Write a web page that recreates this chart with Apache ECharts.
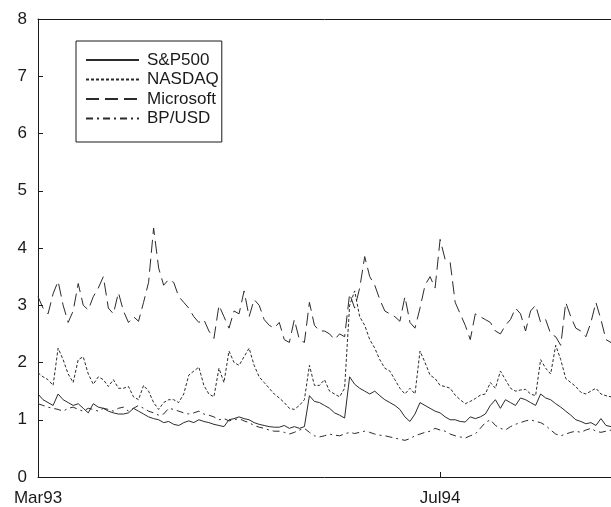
<!DOCTYPE html>
<html>
<head>
<meta charset="utf-8">
<script src="https://cdn.jsdelivr.net/npm/echarts@6/dist/echarts.min.js"></script>
<style>
  html, body { margin: 0; padding: 0; background: #fff; }
  #chart { width: 611px; height: 507px; }
</style>
</head>
<body>
<div id="chart"></div>
<script>
// Samples are taken every 0.2 months, starting at March 1993.
const SAMPLE_STEP_MONTHS = 0.2;

const tickMonths = [0, 16];
const tickLabels = ['Mar93', 'Jul94'];

const seriesNames = ['S&P500', 'NASDAQ', 'Microsoft', 'BP/USD'];

const sp500 = [
  1.45, 1.35, 1.3, 1.25, 1.45, 1.35, 1.3, 1.25, 1.28, 1.2, 1.12, 1.28, 1.22, 1.2, 1.15, 1.12, 1.1, 1.1, 1.12, 1.2,
  1.15, 1.1, 1.05, 1.02, 1.0, 0.95, 0.97, 0.92, 0.9, 0.95, 0.98, 0.95, 1.0, 0.97, 0.95, 0.92, 0.9, 0.88, 1.0, 1.02,
  1.05, 1.02, 1.0, 0.95, 0.92, 0.9, 0.88, 0.87, 0.87, 0.9, 0.85, 0.88, 0.85, 0.88, 1.42, 1.32, 1.3, 1.25, 1.2,
  1.12, 1.08, 1.03, 1.75, 1.62, 1.55, 1.5, 1.45, 1.5, 1.42, 1.35, 1.3, 1.25, 1.18, 1.05, 0.97, 1.1, 1.3, 1.25, 1.2,
  1.15, 1.12, 1.05, 1.0, 1.0, 0.97, 0.96, 1.05, 1.02, 1.05, 1.1, 1.25, 1.35, 1.2, 1.35, 1.3, 1.25, 1.38, 1.35,
  1.3, 1.25, 1.45, 1.38, 1.35, 1.28, 1.22, 1.15, 1.08, 1.0, 0.97, 0.93, 0.95, 0.9, 1.02, 0.9, 0.88, 0.9
];

const nasdaq = [
  1.82, 1.75, 1.7, 1.6, 2.25, 2.05, 1.8, 1.65, 2.05, 2.1, 1.8, 1.62, 1.75, 1.7, 1.58, 1.7, 1.55, 1.55, 1.58, 1.4,
  1.35, 1.6, 1.5, 1.3, 1.18, 1.3, 1.35, 1.35, 1.3, 1.45, 1.78, 1.85, 1.92, 1.6, 1.45, 1.4, 1.9, 1.65, 2.2, 2.0,
  1.95, 2.1, 2.25, 1.95, 1.75, 1.65, 1.55, 1.45, 1.38, 1.3, 1.2, 1.18, 1.25, 1.35, 1.95, 1.6, 1.6, 1.7, 1.5,
  1.45, 1.4, 1.55, 3.0, 3.25, 2.8, 2.65, 2.4, 2.25, 2.05, 1.9, 1.85, 1.7, 1.55, 1.45, 1.55, 1.45, 2.2, 2.0, 1.78,
  1.72, 1.6, 1.58, 1.55, 1.43, 1.35, 1.28, 1.32, 1.37, 1.43, 1.45, 1.65, 1.55, 1.85, 1.7, 1.55, 1.5, 1.52, 1.53,
  1.45, 1.42, 2.05, 1.9, 1.8, 2.3, 2.05, 1.72, 1.65, 1.58, 1.48, 1.45, 1.5, 1.55, 1.45, 1.42, 1.4, 1.45
];

const microsoft = [
  3.15, 2.95, 2.85, 3.2, 3.42, 3.0, 2.7, 2.9, 3.38, 3.0, 2.92, 3.15, 3.3, 3.5, 2.95, 2.85, 3.22, 2.9, 2.7, 2.8,
  2.72, 3.05, 3.4, 4.35, 3.65, 3.35, 3.45, 3.4, 3.15, 3.05, 2.95, 2.8, 2.7, 2.75, 2.55, 2.42, 3.0, 2.8, 2.6, 2.9,
  2.85, 3.25, 2.8, 3.1, 3.0, 2.75, 2.65, 2.6, 2.7, 2.4, 2.35, 2.75, 2.4, 2.35, 3.05, 2.65, 2.55, 2.55, 2.5,
  2.4, 2.5, 2.45, 3.2, 2.95, 3.3, 3.85, 3.5, 3.35, 3.1, 2.9, 2.85, 2.8, 2.72, 3.15, 2.7, 2.6, 2.95, 3.35, 3.5,
  3.3, 4.15, 3.8, 3.75, 3.05, 2.85, 2.65, 2.4, 2.85, 2.8, 2.75, 2.7, 2.55, 2.5, 2.65, 2.75, 2.95, 2.85, 2.55,
  2.9, 3.0, 2.7, 2.75, 2.5, 2.45, 2.3, 3.05, 2.8, 2.6, 2.55, 2.45, 2.7, 3.05, 2.75, 2.4, 2.35, 2.45
];

const bpUsd = [
  1.28, 1.25, 1.22, 1.2, 1.18, 1.15, 1.2, 1.22, 1.18, 1.15, 1.2, 1.18, 1.15, 1.2, 1.18, 1.15, 1.2, 1.22, 1.15, 1.2,
  1.25, 1.2, 1.15, 1.12, 1.08, 1.1, 1.2, 1.18, 1.15, 1.12, 1.1, 1.12, 1.15, 1.1, 1.08, 1.05, 1.0, 1.02, 0.98, 1.0,
  1.02, 0.98, 0.95, 0.9, 0.87, 0.85, 0.82, 0.8, 0.8, 0.78, 0.75, 0.78, 0.82, 0.85, 0.78, 0.72, 0.7, 0.72, 0.75,
  0.73, 0.72, 0.75, 0.78, 0.76, 0.78, 0.8, 0.78, 0.75, 0.73, 0.72, 0.7, 0.68, 0.66, 0.64, 0.67, 0.72, 0.75, 0.78, 0.8,
  0.85, 0.82, 0.8, 0.75, 0.72, 0.7, 0.68, 0.72, 0.75, 0.85, 0.95, 1.0, 0.9, 0.85, 0.82, 0.88, 0.92, 0.95, 0.98,
  1.0, 0.97, 0.95, 0.9, 0.82, 0.75, 0.72, 0.75, 0.78, 0.8, 0.78, 0.82, 0.85, 0.8, 0.78, 0.8, 0.82, 0.8
];

const FONT = '"Liberation Sans", Arial, Helvetica, sans-serif';
const INK = '#1a1a1a';
const TRACE = '#2b2b2b';

function toPoints(values) {
  return values.map((v, i) => [i * SAMPLE_STEP_MONTHS, v]);
}

function lineSeries(name, values, dash) {
  return {
    name: name,
    type: 'line',
    data: toPoints(values),
    symbol: 'none',
    smooth: false,
    xAxisIndex: 0,
    lineStyle: { color: TRACE, width: 1, type: dash },
    itemStyle: { color: TRACE },
    emphasis: { disabled: true }
  };
}

const chart = echarts.init(document.getElementById('chart'), null, { renderer: 'canvas' });

chart.setOption({
  animation: false,
  backgroundColor: '#ffffff',
  grid: { left: 38, top: 19, right: 0, bottom: 30, containLabel: false },
  legend: {
    orient: 'vertical',
    left: 76,
    top: 41,
    data: seriesNames,
    itemWidth: 53,
    itemHeight: 14,
    itemGap: 2.5,
    padding: [10.5, 3, 15, 9],
    borderColor: INK,
    borderWidth: 1,
    backgroundColor: '#ffffff',
    selectedMode: false,
    // legend keys show only the line pattern, no marker
    itemStyle: { opacity: 0, borderWidth: 0 },
    textStyle: { fontFamily: FONT, fontSize: 17, color: INK, padding: [0, 0, 0, 3] }
  },
  xAxis: [
    {
      type: 'value',
      min: 0,
      max: 22.8,
      axisLine: { show: true, lineStyle: { color: INK, width: 1 } },
      axisTick: { show: true, inside: true, length: 5, customValues: tickMonths, lineStyle: { color: INK } },
      axisLabel: {
        show: true,
        customValues: tickMonths,
        formatter: v => {
          const k = tickMonths.indexOf(v);
          return k >= 0 ? tickLabels[k] : '';
        },
        fontFamily: FONT,
        fontSize: 17,
        color: INK,
        margin: 13
      },
      splitLine: { show: false }
    },
    {
      type: 'value',
      position: 'top',
      min: 0,
      max: 22.8,
      axisLine: { show: true, lineStyle: { color: INK, width: 1 } },
      axisTick: { show: false },
      axisLabel: { show: false },
      splitLine: { show: false }
    }
  ],
  yAxis: {
    type: 'value',
    min: 0,
    max: 8,
    interval: 1,
    axisLine: { show: true, lineStyle: { color: INK, width: 1 } },
    axisTick: { show: true, inside: true, length: 5, lineStyle: { color: INK } },
    axisLabel: { fontFamily: FONT, fontSize: 17, color: INK, margin: 11 },
    splitLine: { show: false }
  },
  series: [
    lineSeries(seriesNames[0], sp500, 'solid'),
    lineSeries(seriesNames[1], nasdaq, [3, 2]),
    lineSeries(seriesNames[2], microsoft, [13, 6]),
    lineSeries(seriesNames[3], bpUsd, [7, 4, 2, 4])
  ]
});
</script>
</body>
</html>
